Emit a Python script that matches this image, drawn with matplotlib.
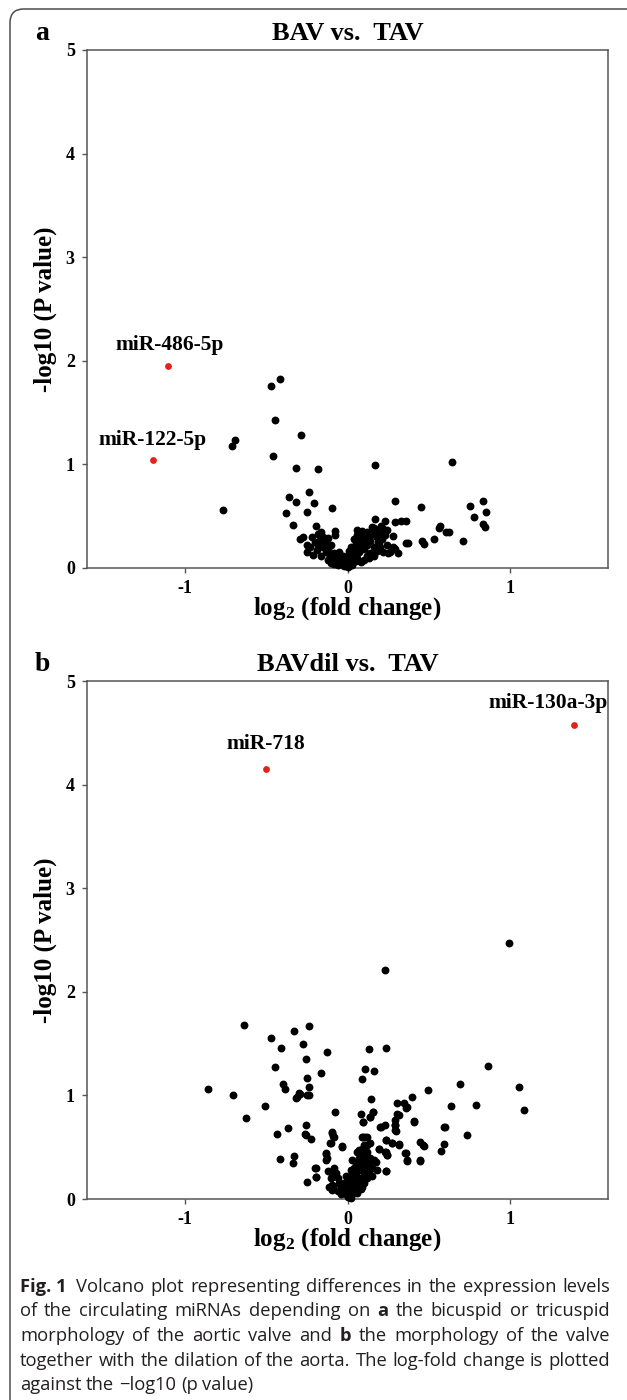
import matplotlib
matplotlib.use("Agg")
import matplotlib.pyplot as plt
from matplotlib.patches import FancyBboxPatch

# ---- data ----
# panel a: BAV vs. TAV
bav_x = [-0.417, -0.47, -0.448, -0.287, -0.688, -0.708, -0.458, -0.318, -0.179, 0.170, 0.643,
         -0.766, -0.357, -0.316, -0.238, -0.207, -0.378, -0.337, -0.246, -0.097, 0.292, 0.170,
         0.450, 0.752, 0.830, 0.850, 0.780, 0.834, 0.842, 0.232, 0.292, 0.329, 0.361, 0.222,
         0.281, 0.569, 0.559, 0.606, 0.622, 0.710, 0.532, 0.460, 0.470, 0.361, 0.374, 0.308,
         0.259, 0.287, -0.246, -0.292, -0.275, -0.191, -0.076, -0.076, -0.165, 0.059, 0.151,
         0.161, 0.182, 0.192, 0.243, 0.280, 0.294, 0.248, 0.164, 0.205,
         -0.22, -0.20, -0.18, -0.17, -0.15, -0.14, -0.13, -0.12, -0.11, -0.10, -0.09, -0.08,
         -0.07, -0.06, -0.05, -0.04, -0.03, -0.02, -0.01, 0.00, -0.21, -0.19, -0.16, -0.12,
         -0.10, -0.08, -0.06, -0.05, -0.03, -0.02, -0.15, -0.12, -0.18, -0.23, -0.25,
         0.01, 0.02, 0.02, 0.03, 0.03, 0.04, 0.04, 0.05, 0.05, 0.06, 0.06, 0.07, 0.07, 0.08,
         0.08, 0.09, 0.10, 0.10, 0.11, 0.12, 0.12, 0.13, 0.14, 0.15, 0.16, 0.17, 0.18, 0.19,
         0.20, 0.21, 0.22, 0.23, 0.01, 0.03, 0.05, 0.08, 0.10, 0.12, 0.14, 0.06, 0.09, 0.02,
         0.00, 0.00, 0.01, 0.04, 0.13, 0.16, 0.18, 0.20, 0.22, 0.24]
bav_y = [1.82, 1.76, 1.43, 1.28, 1.24, 1.18, 1.08, 0.97, 0.96, 0.99, 1.02,
         0.556, 0.688, 0.637, 0.736, 0.627, 0.527, 0.418, 0.537, 0.576, 0.646, 0.476,
         0.585, 0.598, 0.646, 0.540, 0.489, 0.428, 0.395, 0.453, 0.447, 0.453, 0.457, 0.370,
         0.309, 0.402, 0.383, 0.344, 0.344, 0.257, 0.277, 0.257, 0.228, 0.241, 0.241, 0.148,
         0.158, 0.193, 0.158, 0.283, 0.296, 0.405, 0.360, 0.322, 0.351, 0.367, 0.399,
         0.351, 0.303, 0.254, 0.367, 0.206, 0.180, 0.141, 0.386, 0.402,
         0.30, 0.25, 0.22, 0.27, 0.20, 0.25, 0.15, 0.18, 0.12, 0.22, 0.10, 0.14,
         0.08, 0.12, 0.06, 0.10, 0.04, 0.07, 0.03, 0.01, 0.13, 0.17, 0.12, 0.08,
         0.05, 0.04, 0.03, 0.15, 0.12, 0.02, 0.30, 0.29, 0.33, 0.20, 0.22,
         0.02, 0.05, 0.10, 0.08, 0.15, 0.12, 0.20, 0.18, 0.25, 0.10, 0.22, 0.15, 0.28, 0.20,
         0.30, 0.25, 0.18, 0.33, 0.28, 0.22, 0.35, 0.30, 0.26, 0.33, 0.20, 0.37, 0.30, 0.25,
         0.34, 0.28, 0.38, 0.32, 0.06, 0.03, 0.07, 0.06, 0.08, 0.12, 0.14, 0.32, 0.36, 0.20,
         0.12, 0.06, 0.16, 0.28, 0.10, 0.12, 0.16, 0.20, 0.15, 0.22]
bav_sig_x = [-1.105, -1.195]
bav_sig_y = [1.95, 1.04]
bav_sig_labels = ["miR-486-5p", "miR-122-5p"]
bav_label_x = [-1.09, -1.195]
bav_label_y = [2.15, 1.24]

# panel b: BAVdil vs. TAV
dil_x = [-0.855, -0.705, -0.625, -0.635, -0.504, -0.467, -0.445, -0.434, -0.406, -0.395, -0.383,
         -0.414, -0.363, -0.332, -0.326, -0.326, -0.314, -0.295, -0.275, -0.254, -0.246, -0.236,
         -0.246, -0.236, -0.256, -0.264, -0.254, -0.225, -0.246, -0.195, -0.195, -0.164, -0.127,
         -0.076, -0.133, -0.129, -0.096, -0.086, -0.105, -0.035, -0.117, -0.096, 0.084, 0.135,
         0.105, 0.086, 0.164, 0.236, 0.143, 0.154, 0.141, 0.094, 0.201, 0.232, 0.303, 0.316,
         0.344, 0.365, 0.395, 0.291, 0.293, 0.295, 0.406, 0.494, 0.693, 0.865, 0.635, 0.791,
         1.053, 1.082, 0.590, 0.600, 0.734, 0.594, 0.576, 0.443, 0.465, 0.443, 0.357, 0.365,
         0.275, 0.316, 0.236, 0.238, 0.242, 0.236, 0.195, 0.094, 0.105,
         -0.313, -0.292, -0.237, -0.098, -0.084, -0.104, -0.032, -0.134, -0.124, -0.104, -0.094,
         -0.115, -0.094, 0.096, 0.157, 0.141, 0.090, 0.117, 0.100, 0.140, 0.069, 0.080, 0.196,
         0.237, 0.233, 0.243, 0.239, 0.206, 0.304, 0.292, 0.294, 0.360, 0.407, 0.274, 0.315,
         0.356, 0.366, 0.468, 0.444, 0.172, 0.182, -0.197, -0.191,
         0.233, 0.99,
         -0.08, -0.07, -0.06, -0.05, -0.04, -0.03, -0.02, -0.01, 0.00, 0.00, 0.01, 0.01, 0.02,
         0.02, 0.03, 0.03, 0.03, 0.04, 0.04, 0.05, 0.05, 0.05, 0.06, 0.06, 0.07, 0.07, 0.08,
         0.08, 0.09, 0.09, 0.10, 0.10, 0.11, 0.11, 0.12, 0.12, 0.13, 0.13, 0.14, 0.15, 0.15,
         0.16, -0.10, -0.09, -0.06, -0.04, -0.02, 0.00, 0.02, 0.04, 0.06, 0.08, 0.01, 0.02,
         -0.01, 0.03, 0.06, 0.09, 0.12, 0.10]
dil_y = [1.064, 1.003, 0.781, 1.675, 0.894, 1.553, 1.273, 0.624, 1.453, 1.113, 1.064,
         0.389, 0.685, 0.344, 0.418, 1.624, 0.974, 1.023, 1.495, 1.354, 1.170, 1.080,
         1.003, 1.666, 0.714, 0.624, 0.614, 0.582, 0.164, 0.299, 0.212, 1.212, 1.415,
         0.842, 0.434, 0.379, 0.637, 0.605, 0.540, 0.508, 0.267, 0.138, 0.823, 1.444,
         1.254, 1.161, 1.235, 1.453, 0.965, 0.842, 0.794, 0.740, 0.698, 0.714, 0.926, 0.807,
         0.926, 0.887, 0.984, 0.765, 0.711, 0.653, 0.752, 1.055, 1.113, 1.286, 0.894, 0.904,
         1.080, 0.855, 0.695, 0.695, 0.614, 0.527, 0.463, 0.547, 0.518, 0.373, 0.444, 0.373,
         0.537, 0.527, 0.572, 0.453, 0.428, 0.273, 0.482, 0.598, 0.598,
         0.982, 1.014, 1.005, 0.644, 0.602, 0.537, 0.500, 0.441, 0.393, 0.264, 0.216,
         0.120, 0.086, 0.740, 0.844, 0.796, 0.602, 0.602, 0.520, 0.537, 0.473, 0.441, 0.479,
         0.569, 0.457, 0.425, 0.274, 0.699, 0.821, 0.715, 0.667, 0.875, 0.747, 0.537, 0.520,
         0.441, 0.370, 0.511, 0.370, 0.360, 0.279, 0.296, 0.210,
         2.21, 2.47,
         0.30, 0.25, 0.20, 0.15, 0.12, 0.10, 0.08, 0.05, 0.02, 0.10, 0.06, 0.15, 0.10,
         0.20, 0.05, 0.13, 0.25, 0.18, 0.30, 0.09, 0.22, 0.35, 0.15, 0.27, 0.33, 0.40, 0.20,
         0.28, 0.35, 0.12, 0.25, 0.42, 0.30, 0.38, 0.20, 0.45, 0.33, 0.27, 0.40, 0.22, 0.30,
         0.38, 0.20, 0.13, 0.08, 0.05, 0.15, 0.18, 0.28, 0.08, 0.06, 0.10, 0.02, 0.01,
         0.22, 0.38, 0.45, 0.48, 0.52, 0.15]
dil_sig_x = [-0.50, 1.39]
dil_sig_y = [4.155, 4.58]
dil_sig_labels = ["miR-718", "miR-130a-3p"]
dil_label_x = [-0.50, 1.23]
dil_label_y = [4.39, 4.79]

panels = [
    ("a", "BAV vs.  TAV", bav_x, bav_y, bav_sig_x, bav_sig_y, bav_sig_labels, bav_label_x, bav_label_y),
    ("b", "BAVdil vs.  TAV", dil_x, dil_y, dil_sig_x, dil_sig_y, dil_sig_labels, dil_label_x, dil_label_y),
]

caption = [
    [("Fig. 1", True), ("Volcano", False), ("plot", False), ("representing", False), ("differences", False),
     ("in", False), ("the", False), ("expression", False), ("levels", False)],
    [("of", False), ("the", False), ("circulating", False), ("miRNAs", False), ("depending", False),
     ("on", False), ("a", True), ("the", False), ("bicuspid", False), ("or", False), ("tricuspid", False)],
    [("morphology", False), ("of", False), ("the", False), ("aortic", False), ("valve", False),
     ("and", False), ("b", True), ("the", False), ("morphology", False), ("of", False), ("the", False),
     ("valve", False)],
    [("together", False), ("with", False), ("the", False), ("dilation", False), ("of", False),
     ("the", False), ("aorta.", False), ("The", False), ("log-fold", False), ("change", False),
     ("is", False), ("plotted", False)],
    [("against", False), ("the", False), ("\u2212log10", False), ("(p", False), ("value)", False)],
]

# ---- figure ----
W, H = 627, 1400
plt.rcParams['font.family'] = ['Liberation Serif', 'DejaVu Serif']
plt.rcParams['axes.unicode_minus'] = False
plt.rcParams['mathtext.fontset'] = 'custom'
plt.rcParams['mathtext.rm'] = 'Liberation Serif:bold'
plt.rcParams['mathtext.it'] = 'Liberation Serif:bold'
plt.rcParams['mathtext.bf'] = 'Liberation Serif:bold'

fig = plt.figure(figsize=(W / 100, H / 100), dpi=100)
fig.patch.set_facecolor('white')


def fx(px):
    return px / W


def fy(py):
    return 1 - py / H


# rounded frame of the journal page (right and bottom edges run off the picture)
frame = FancyBboxPatch((fx(10), fy(1460)), fx(700) - fx(10), fy(9) - fy(1460),
                       boxstyle="round,pad=0,rounding_size=0.022", transform=fig.transFigure,
                       facecolor='none', edgecolor='#4d4d4d', linewidth=1.1,
                       mutation_aspect=W / H)
fig.patches.append(frame)

ax_left, ax_right = 87, 608
tops = [50, 681]
ax_h = 518
spine_col = '#555555'

for (letter, title, xs, ys, sx, sy, labs, lx, ly), top in zip(panels, tops):
    ax = fig.add_axes([fx(ax_left), fy(top + ax_h), fx(ax_right - ax_left), ax_h / H])
    ax.scatter(xs, ys, s=32, color='black', linewidths=0, clip_on=False, zorder=3)
    ax.scatter(sx, sy, s=24, color='#e2231a', linewidths=0, clip_on=False, zorder=3)
    for t, x, y in zip(labs, lx, ly):
        ax.text(x, y, t, ha='center', va='center', fontsize=15.5, fontweight='bold')
    ax.set_xlim(-1.6, 1.6)
    ax.set_ylim(0, 5)
    ax.set_xticks([-1, 0, 1])
    ax.set_yticks([0, 1, 2, 3, 4, 5])
    ax.tick_params(direction='out', length=3.8, width=1.0, color=spine_col,
                   labelsize=13, pad=5)
    for lab in ax.get_xticklabels() + ax.get_yticklabels():
        lab.set_fontweight('bold')
    for sp in ax.spines.values():
        sp.set_color(spine_col)
        sp.set_linewidth(1.1)

    fig.text(fx(42), fy(top - 10), letter, ha='center', va='baseline',
             fontsize=20, fontweight='bold')
    fig.text(fx(348), fy(top - 10), title, ha='center', va='baseline',
             fontsize=19, fontweight='bold')
    fig.text(fx(347), fy(top + ax_h + 41), "log$_2$ (fold change)", ha='center', va='center',
             fontsize=18, fontweight='bold')
    fig.text(fx(45), fy(top + ax_h / 2), "-log10 (P value)", ha='center', va='center',
             rotation=90, fontsize=18, fontweight='bold')

# ---- caption, justified ----
cap_font = ['Open Sans', 'DejaVu Sans']
cap_left, cap_right = 20, 610
cap_y0, cap_dy = 1292, 24.5
renderer = fig.canvas.get_renderer()


def word_width(s, bold, size):
    t = fig.text(0, 0, s, fontsize=size, family=cap_font,
                 fontweight='bold' if bold else 'normal')
    w = t.get_window_extent(renderer).width
    t.remove()
    return w


# pick the size at which the widest line just fills the text block with plain spaces
base = 10.0
base_space = word_width("a a", False, base) - word_width("aa", False, base)
natural = [sum(word_width(s, b, base) for s, b in line) + base_space * (len(line) - 1)
           for line in caption[:-1]]
cap_fs = base * (cap_right - cap_left - 4) / max(natural)

space_w = word_width("a a", False, cap_fs) - word_width("aa", False, cap_fs)
for i, line in enumerate(caption):
    widths = [word_width(s, b, cap_fs) for s, b in line]
    extra = [0.0] * len(line)
    if i == 0:
        extra[1] = space_w * 0.8
    gaps = len(line) - 1
    if i < len(caption) - 1:
        gap = (cap_right - cap_left - sum(widths) - sum(extra)) / gaps
    else:
        gap = space_w
    x = cap_left
    y = cap_y0 + i * cap_dy
    for (s, b), w, e in zip(line, widths, extra):
        x += e
        fig.text(fx(x), fy(y), s, fontsize=cap_fs, family=cap_font, color='#231f20',
                 fontweight='bold' if b else 'normal', ha='left', va='baseline')
        x += w + gap

fig.savefig("out.png", dpi=100, facecolor='white')
